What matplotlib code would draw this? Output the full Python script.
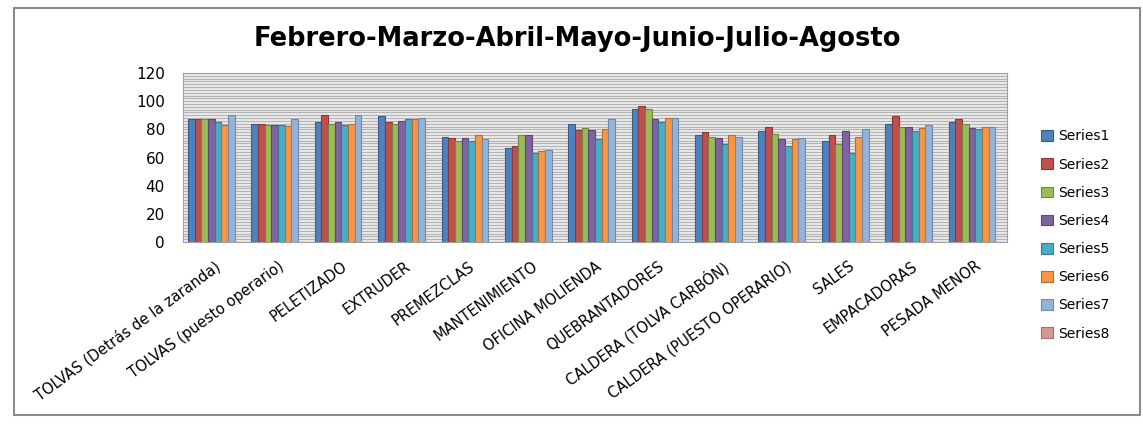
import numpy as np
import matplotlib.pyplot as plt
from matplotlib.patches import Rectangle

plt.rcParams['font.family'] = ['DejaVu Sans']

categories = ['TOLVAS (Detrás de la zaranda)', 'TOLVAS (puesto operario)', 'PELETIZADO',
              'EXTRUDER', 'PREMEZCLAS', 'MANTENIMIENTO', 'OFICINA MOLIENDA',
              'QUEBRANTADORES', 'CALDERA (TOLVA CARBÓN)', 'CALDERA (PUESTO OPERARIO)',
              'SALES', 'EMPACADORAS', 'PESADA MENOR']

s1 = [87.4, 84.1, 85.3, 89.3, 74.9, 66.6, 84.1, 94.7, 75.8, 79.1, 71.8, 84.1, 85.3]
s2 = [87.4, 84.1, 90.5, 85.3, 73.7, 68.5, 79.4, 96.9, 78.0, 82.0, 75.8, 89.3, 87.4]
s3 = [87.4, 83.2, 84.1, 84.1, 71.8, 75.8, 81.0, 94.7, 74.9, 77.0, 69.7, 82.0, 84.1]
s4 = [87.2, 83.2, 85.3, 86.2, 73.7, 75.8, 79.4, 87.4, 73.7, 72.8, 79.1, 82.0, 81.0]
s5 = [85.3, 83.2, 83.2, 87.4, 71.8, 63.3, 72.8, 85.3, 69.7, 68.5, 63.3, 79.1, 80.1]
s6 = [83.2, 82.2, 84.1, 87.4, 75.8, 64.5, 80.1, 88.4, 75.8, 72.8, 74.9, 81.0, 82.0]
s7 = [90.5, 87.4, 90.5, 88.4, 72.8, 65.4, 87.4, 88.4, 74.9, 73.7, 80.1, 83.2, 82.0]
s8 = [0] * 13
series = [s1, s2, s3, s4, s5, s6, s7, s8]
names = ['Series1', 'Series2', 'Series3', 'Series4', 'Series5', 'Series6', 'Series7', 'Series8']

colors = ['#4F81BD', '#C0504D', '#9BBB59', '#8064A2', '#4BACC6', '#F79646', '#95B3D7', '#D99694']
edges = ['#385D8A', '#8C3836', '#71893F', '#5C4776', '#357D91', '#B66D31', '#6F8AAE', '#A0716F']

fig = plt.figure(figsize=(11.43, 4.24), dpi=100)
fig.patches.append(Rectangle((14 / 1143, 1 - 415 / 424), 1126 / 1143, 407 / 424,
                             transform=fig.transFigure, fill=False,
                             edgecolor='#8c8c8c', linewidth=1.5))

ax = fig.add_axes([183 / 1143, 1 - 242 / 424, 824 / 1143, 169 / 424])
ax.set_facecolor('#ebebeb')

x = np.arange(len(categories))
w = 1 / 9.5
for i, vals in enumerate(series):
    ax.bar(x - 4 * w + (i + 0.5) * w, vals, w, color=colors[i], edgecolor=edges[i],
           linewidth=0.8, label=names[i], zorder=3)

ax.set_xlim(-0.5, len(categories) - 0.5)
ax.set_ylim(0, 120)
ax.set_yticks(np.arange(0, 121, 20))
ax.set_yticks(np.arange(0, 121, 2), minor=True)
ax.yaxis.grid(True, which='both', color='#b4b4b4', linewidth=0.8, zorder=0)
ax.set_axisbelow(True)
ax.set_xticks(x)
ax.set_xticklabels(categories, rotation=36, ha='right', rotation_mode='anchor', fontsize=10.5)
ax.tick_params(axis='both', which='both', length=0, colors='black')
ax.tick_params(axis='y', labelsize=11, pad=13)
ax.tick_params(axis='x', pad=12)
for sp in ax.spines.values():
    sp.set_color('#a0a0a0')

fig.text(577 / 1143, 1 - 39 / 424, 'Febrero-Marzo-Abril-Mayo-Junio-Julio-Agosto',
         ha='center', va='center', fontsize=18.5, fontweight='bold')

ax.legend(loc='center left', bbox_to_anchor=(1028 / 1143, 1 - 235 / 424),
          bbox_transform=fig.transFigure, frameon=False, fontsize=10,
          handlelength=0.9, handleheight=0.8, labelspacing=1.02, handletextpad=0.4)

plt.savefig('out.png')
plt.close()
